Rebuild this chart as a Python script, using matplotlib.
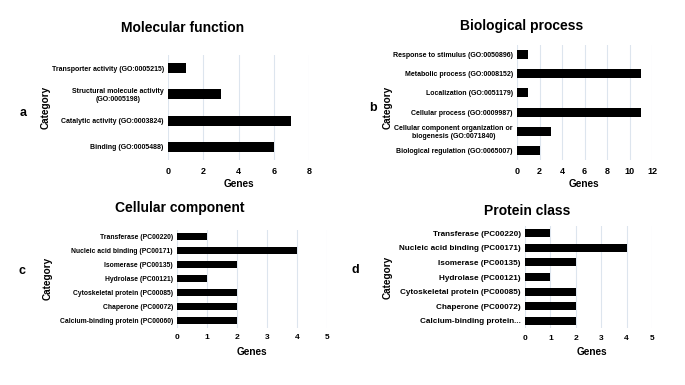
import matplotlib
matplotlib.use("Agg")
import matplotlib.pyplot as plt

# -------------------------
# Data
# -------------------------

mf_labels = [
    "Binding (GO:0005488)",
    "Catalytic activity (GO:0003824)",
    "Structural molecule activity\n(GO:0005198)",
    "Transporter activity (GO:0005215)",
]
mf_genes = [6, 7, 3, 1]

bp_labels = [
    "Biological regulation (GO:0065007)",
    "Cellular component organization or\nbiogenesis (GO:0071840)",
    "Cellular process (GO:0009987)",
    "Localization (GO:0051179)",
    "Metabolic process (GO:0008152)",
    "Response to stimulus (GO:0050896)",
]
bp_genes = [2, 3, 11, 1, 11, 1]

cc_labels = [
    "Calcium-binding protein (PC00060)",
    "Chaperone (PC00072)",
    "Cytoskeletal protein (PC00085)",
    "Hydrolase (PC00121)",
    "Isomerase (PC00135)",
    "Nucleic acid binding (PC00171)",
    "Transferase (PC00220)",
]
cc_genes = [2, 2, 2, 1, 2, 4, 1]

pc_labels = [
    "Calcium-binding protein...",
    "Chaperone (PC00072)",
    "Cytoskeletal protein (PC00085)",
    "Hydrolase (PC00121)",
    "Isomerase (PC00135)",
    "Nucleic acid binding (PC00171)",
    "Transferase (PC00220)",
]
pc_genes = [2, 2, 2, 1, 2, 4, 1]

plt.rcParams["font.family"] = ["Liberation Sans", "DejaVu Sans"]
plt.rcParams["font.weight"] = "bold"

W, H = 685, 385
fig = plt.figure(figsize=(W / 100, H / 100), dpi=100)


def px_axes(left, top, right, bottom):
    return fig.add_axes([
        left / W,
        1 - bottom / H,
        (right - left) / W,
        (bottom - top) / H,
    ])


def draw_panel(ax, labels, values, xmax, step, bar_h, label_size, tick_size):
    y = range(len(labels))
    ax.barh(y, values, height=bar_h, color="black", zorder=3)
    ax.set_xlim(0, xmax)
    ax.set_ylim(-0.5, len(labels) - 0.5)
    ax.set_xticks(range(0, xmax + 1, step))
    ax.set_yticks(list(y))
    ax.set_yticklabels(labels, fontsize=label_size, fontweight="bold",
                       multialignment="center")
    ax.tick_params(axis="x", labelsize=tick_size, length=0, pad=5)
    ax.tick_params(axis="y", length=0, pad=3)
    for lab in ax.get_xticklabels():
        lab.set_fontweight("bold")
    ax.grid(axis="x", color="#dde5ee", linewidth=0.8, zorder=0)
    for s in ax.spines.values():
        s.set_visible(False)


# -------------------------
# Panels
# -------------------------

ax_a = px_axes(168, 55, 309, 160)
draw_panel(ax_a, mf_labels, mf_genes, 8, 2, 0.38, 5.0, 6.5)

ax_b = px_axes(517, 45, 652, 160)
draw_panel(ax_b, bp_labels, bp_genes, 12, 2, 0.47, 5.0, 6.5)

ax_c = px_axes(177, 229.5, 327, 327.5)
draw_panel(ax_c, cc_labels, cc_genes, 5, 1, 0.5, 4.85, 6.0)

ax_d = px_axes(525, 226, 652, 328)
draw_panel(ax_d, pc_labels, pc_genes, 5, 1, 0.55, 5.9, 6.0)

# -------------------------
# Text
# -------------------------

def ftext(x, y, s, **kw):
    fig.text(x / W, 1 - y / H, s, ha="center", va="center",
             fontweight="bold", **kw)


ftext(183, 28, "Molecular function", fontsize=10)
ftext(522, 26, "Biological process", fontsize=10)
ftext(180, 208, "Cellular component", fontsize=10)
ftext(527, 211, "Protein class", fontsize=10)

ftext(239, 184, "Genes", fontsize=7.2)
ftext(584, 184, "Genes", fontsize=7.2)
ftext(252, 352, "Genes", fontsize=7.2)
ftext(592, 352, "Genes", fontsize=7.2)

ftext(46, 107, "Category", fontsize=7.2, rotation=90)
ftext(388, 107, "Category", fontsize=7.2, rotation=90)
ftext(48, 278, "Category", fontsize=7.2, rotation=90)
ftext(388, 277, "Category", fontsize=7.2, rotation=90)

ftext(23, 113, "a", fontsize=9)
ftext(373, 108, "b", fontsize=9)
ftext(22, 271, "c", fontsize=9)
ftext(355, 270, "d", fontsize=9)

fig.savefig("out.png", dpi=100, facecolor="white")
